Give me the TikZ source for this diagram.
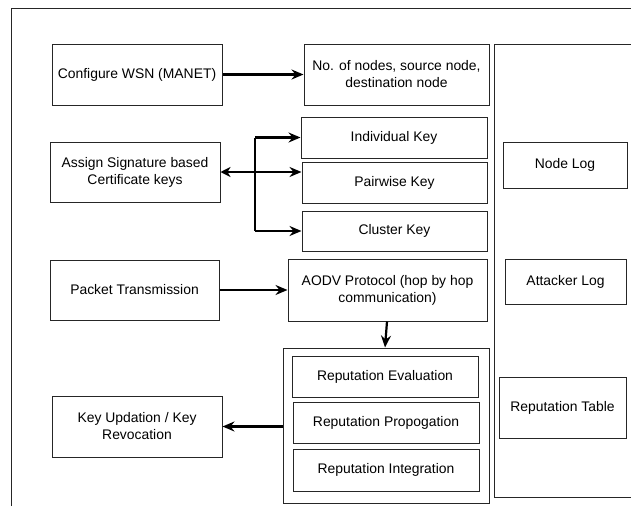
\documentclass[tikz,border=0pt]{standalone}
\usepackage{fontspec}
\setmainfont{Liberation Sans}
\usetikzlibrary{arrows.meta}
\begin{document}
\begin{tikzpicture}[x=1pt,y=-1pt,
  box/.style={draw=black!85,line width=1pt,inner sep=0pt,align=center,
    font=\fontsize{13.9}{17}\selectfont},
  arr/.style={line width=2.2pt,-{Stealth[length=12pt,width=10pt,inset=4pt]}},
  frame/.style={draw=black!85,line width=1pt}]
\useasboundingbox (0,0) rectangle (631,506);
% outer frame
\draw[frame] (11,506) -- (11,8) -- (631,8);
% right panel
\draw[frame] (631,44) -- (494,44) -- (494,497) -- (631,497);
% container
\node[box,minimum width=206pt,minimum height=155pt] (cont) at (386,425.5) {};
% nodes
\node[box,minimum width=170pt,minimum height=61pt] (cfg) at (137,74.5) {Configure WSN (MANET)};
\node[box,minimum width=185pt,minimum height=61pt] (nodes) at (396.5,74.5) {No. of nodes, source node,\\destination node};
\node[box,minimum width=170pt,minimum height=60pt] (assign) at (135,172) {Assign Signature based\\Certificate keys};
\node[box,minimum width=186pt,minimum height=41pt] (ind) at (394,137.5) {Individual Key};
\node[box,minimum width=185pt,minimum height=41pt] (pair) at (394.5,182.5) {Pairwise Key};
\node[box,minimum width=185pt,minimum height=40pt] (clus) at (394.5,231) {Cluster Key};
\node[box,minimum width=169pt,minimum height=60pt] (packet) at (134.5,290) {Packet Transmission};
\node[box,minimum width=199pt,minimum height=62pt] (aodv) at (387.5,290) {AODV Protocol (hop by hop\\communication)};
\node[box,minimum width=186pt,minimum height=41pt] (eval) at (385,376.5) {Reputation Evaluation};
\node[box,minimum width=186pt,minimum height=41pt] (prop) at (386,422.5) {Reputation Propogation};
\node[box,minimum width=186pt,minimum height=42pt] (integ) at (386,470) {Reputation Integration};
\node[box,minimum width=170pt,minimum height=61pt] (keyupd) at (137,426.5) {Key Updation / Key\\Revocation};
\node[box,minimum width=124pt,minimum height=46pt] (nodelog) at (565,165) {Node Log};
\node[box,minimum width=121pt,minimum height=45pt] (attlog) at (565.5,281.5) {Attacker Log};
\node[box,minimum width=127pt,minimum height=61pt] (table) at (562.5,407.5) {Reputation Table};
% connectors
\coordinate (br) at (255,172);
\draw[arr] (cfg) -- (nodes);
\draw[line width=2.6pt,{Stealth[length=10pt,width=10pt,inset=3pt]}-] (assign.east) -- (br);
\draw[arr] (br) -- (pair.west |- br);
\draw[line width=2pt] (br |- ind.west) -- (br |- clus.west);
\draw[arr] (br |- ind.west) -- (ind.west);
\draw[arr] (br |- clus.west) -- (clus.west);
\draw[arr] (packet) -- (aodv);
\draw[arr] ([xshift=-0.5pt]aodv.south) -- ([xshift=-1pt]cont.north);
\draw[arr] (cont.west |- keyupd.east) -- (keyupd.east);
\end{tikzpicture}
\end{document}
